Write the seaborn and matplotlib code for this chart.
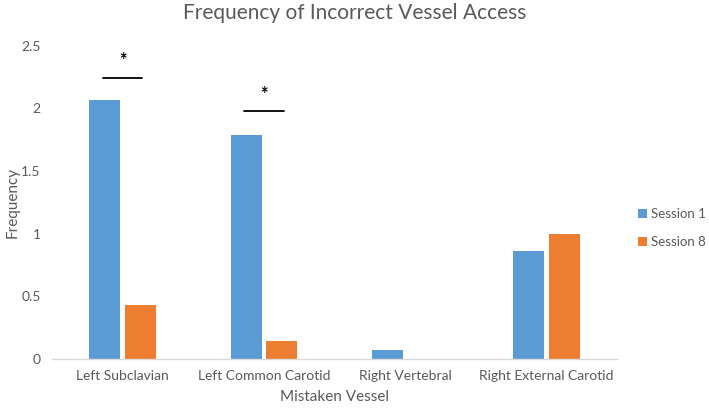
import matplotlib
matplotlib.use("Agg")
import matplotlib.pyplot as plt
import seaborn as sns
import pandas as pd

# chart data
vessels = ["Left Subclavian", "Left Common Carotid", "Right Vertebral", "Right External Carotid"]
session_1 = [2.07, 1.79, 0.07, 0.86]
session_8 = [0.43, 0.14, 0.0, 1.0]
sessions = ["Session 1", "Session 8"]

# significance markers
sig_groups = [0, 1]
sig_line_y = [2.24, 1.98]
sig_star_y = [2.38, 2.11]

df = pd.DataFrame({
    "Vessel": vessels * 2,
    "Frequency": session_1 + session_8,
    "Session": [sessions[0]] * len(vessels) + [sessions[1]] * len(vessels),
})

sns.set_style("white")
plt.rcParams["font.family"] = ["Lato", "DejaVu Sans"]
text_col = "#595959"

fig = plt.figure(figsize=(7.09, 4.08), dpi=100)
ax = fig.add_axes([0.0733, 0.120, 0.797, 0.768])

sns.barplot(data=df, x="Vessel", y="Frequency", hue="Session",
            palette=["#5B9BD5", "#ED7D31"], saturation=1, width=0.5, gap=0.12,
            linewidth=0, ax=ax)

ax.set_ylim(0, 2.5)
ax.set_xlim(-0.5, len(vessels) - 0.5)
ax.set_yticks([0, 0.5, 1, 1.5, 2, 2.5])
ax.set_yticklabels(["0", "0.5", "1", "1.5", "2", "2.5"])
ax.tick_params(axis="both", length=0, colors=text_col, labelsize=10, pad=8)
for side in ["left", "right", "top"]:
    ax.spines[side].set_visible(False)
ax.spines["bottom"].set_color("#D9D9D9")
ax.spines["bottom"].set_linewidth(1)

ax.set_xlabel("Mistaken Vessel", color=text_col, fontsize=11, labelpad=6)
ax.set_ylabel("Frequency", color=text_col, fontsize=11)
ax.yaxis.set_label_coords(-0.058, 0.5)
fig.text(0.5, 0.968, "Frequency of Incorrect Vessel Access", color=text_col,
         fontsize=15, ha="center", va="center")

# significance bars
for g, ly, sy in zip(sig_groups, sig_line_y, sig_star_y):
    ax.plot([g - 0.14, g + 0.14], [ly, ly], color="black", lw=1.3)
    ax.text(g, sy, "*", ha="center", va="center", fontsize=13,
            fontweight="bold", color="black")

handles, labels = ax.get_legend_handles_labels()
ax.legend_.remove()
fig.legend(handles, labels, loc="center left", bbox_to_anchor=(0.9, 0.441),
           frameon=False, fontsize=9.5, handlelength=0.7, handleheight=0.7,
           handletextpad=0.3, labelspacing=1.2, borderpad=0, borderaxespad=0,
           labelcolor=text_col)

fig.savefig("out.png", dpi=100)
